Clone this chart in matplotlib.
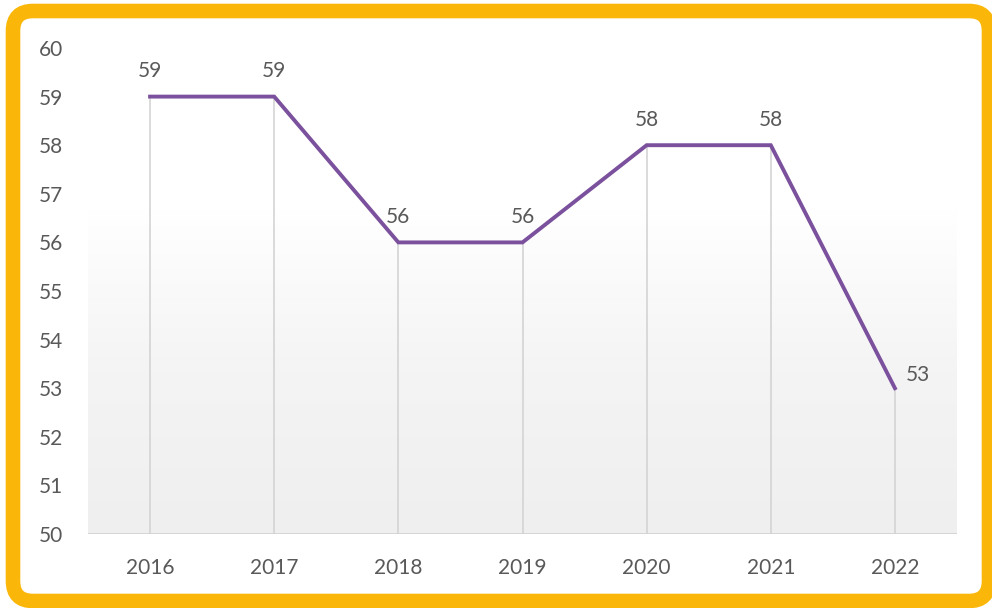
import numpy as np
import matplotlib.pyplot as plt
from matplotlib.patches import FancyBboxPatch
from matplotlib.colors import LinearSegmentedColormap

years = ['2016', '2017', '2018', '2019', '2020', '2021', '2022']
values = [59, 59, 56, 56, 58, 58, 53]
y_ticks = list(range(50, 61))

LINE_COLOR = '#7b519d'
TEXT_COLOR = '#595959'
FRAME_COLOR = '#fbb709'
FONT_SIZE = 15

plt.rcParams['font.family'] = ['Lato', 'DejaVu Sans']

fig = plt.figure(figsize=(9.92, 6.08), dpi=100)

# yellow rounded frame around a white panel
frame_ax = fig.add_axes([0, 0, 1, 1])
frame_ax.set_xlim(0, 992)
frame_ax.set_ylim(608, 0)
frame_ax.axis('off')
frame_ax.add_patch(FancyBboxPatch((13, 11), 976, 590,
                                  boxstyle='round,pad=0,rounding_size=20',
                                  facecolor='white', edgecolor=FRAME_COLOR,
                                  linewidth=10.5))

ax = fig.add_axes([88 / 992, 1 - 534 / 608, (957 - 88) / 992, (534 - 48) / 608])
x = np.arange(len(years))

# soft vertical gradient behind the plot
grad = np.linspace(0, 1, 256).reshape(-1, 1)
cmap = LinearSegmentedColormap.from_list('bg', ['#f0eff0', '#f5f4f5', '#ffffff', '#ffffff'])
ax.imshow(grad, aspect='auto', cmap=cmap, extent=(-0.5, 6.5, 50, 60),
          origin='lower', zorder=0)

# drop lines from each point to the baseline
ax.vlines(x, 50, values, color='#d4d4d4', linewidth=1.2, zorder=1)
ax.axhline(50, color='#d0d0d0', linewidth=1.2, zorder=1)

ax.plot(x, values, color=LINE_COLOR, linewidth=2.8, solid_joinstyle='miter', zorder=3)

for i, v in enumerate(values):
    if i == len(values) - 1:
        ax.annotate(str(v), (i, v), xytext=(8, 2), textcoords='offset points',
                    ha='left', va='bottom', fontsize=FONT_SIZE, color=TEXT_COLOR)
    else:
        ax.annotate(str(v), (i, v), xytext=(0, 11), textcoords='offset points',
                    ha='center', va='bottom', fontsize=FONT_SIZE, color=TEXT_COLOR)

ax.set_xlim(-0.5, 6.5)
ax.set_ylim(50, 60)
ax.set_xticks(x)
ax.set_xticklabels(years)
ax.set_yticks(y_ticks)
ax.tick_params(axis='both', length=0, labelsize=FONT_SIZE, labelcolor=TEXT_COLOR)
ax.tick_params(axis='x', pad=17)
ax.tick_params(axis='y', pad=18)
for s in ax.spines.values():
    s.set_visible(False)

fig.savefig('out.png', dpi=100)
